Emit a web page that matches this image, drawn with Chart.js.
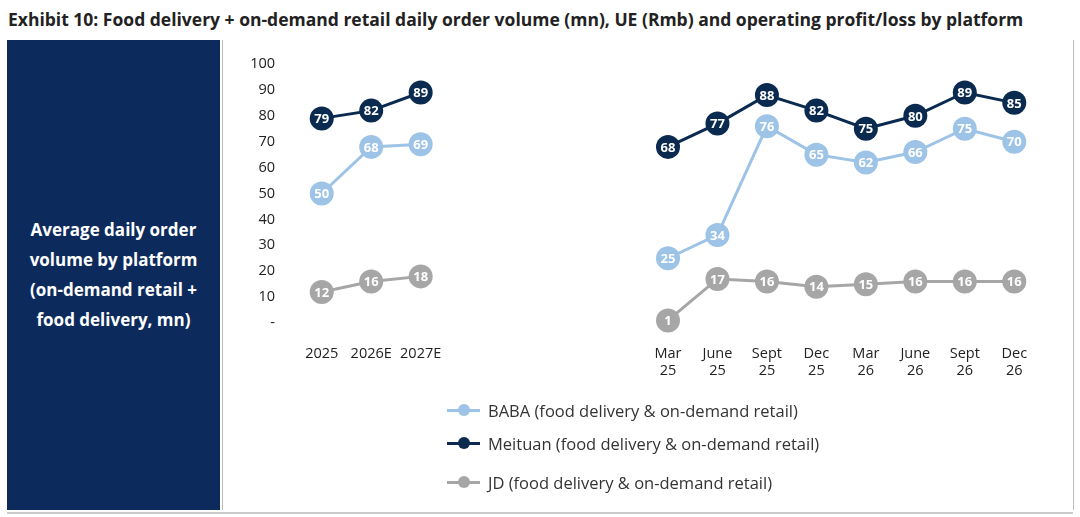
<!DOCTYPE html>
<html><head><meta charset="utf-8">
<script src="https://cdn.jsdelivr.net/npm/chart.js@4"></script>
<style>
body{margin:0;width:1080px;height:517px;background:#fff;font-family:"Open Sans",sans-serif;position:relative;overflow:hidden}
#title{position:absolute;left:8px;top:7px;font-size:17.5px;font-weight:bold;color:#222;white-space:nowrap}
#side{position:absolute;left:7px;top:40px;width:213px;height:470px;background:#0d2a5c;color:#fff;font-weight:bold;font-size:17px;line-height:30px;text-align:center;display:flex;align-items:center;justify-content:center}
#box{position:absolute;left:222px;top:40px;width:850px;height:470px;border-left:1px solid #bbb;border-right:1px solid #bbb}
#bot{position:absolute;left:7px;top:512px;width:1066px;height:2px;background:#ccc}
#wrap{position:absolute;left:222px;top:40px;width:850px;height:360px}
.lg{position:absolute;left:447px;font-size:16.5px;color:#333;display:flex;align-items:center}
.lg i{display:inline-block;width:33px;height:3px;position:relative;margin-right:8px}
.lg i b{position:absolute;left:11px;top:-5px;width:12px;height:12px;border-radius:50%}
</style></head><body>
<div id="title">Exhibit 10: Food delivery + on-demand retail daily order volume (mn), UE (Rmb) and operating profit/loss by platform</div>
<div id="side"><div>Average daily order<br>volume by platform<br>(on-demand retail +<br>food delivery, mn)</div></div>
<div id="box"></div>
<div id="bot"></div>
<div id="wrap"><canvas id="c"></canvas></div>
<div class="lg" style="top:399px"><i style="background:#9dc3e6"><b style="background:#9dc3e6"></b></i>BABA (food delivery &amp; on-demand retail)</div>
<div class="lg" style="top:432px"><i style="background:#0b2a4f"><b style="background:#0b2a4f"></b></i>Meituan (food delivery &amp; on-demand retail)</div>
<div class="lg" style="top:471px"><i style="background:#a6a6a6"><b style="background:#a6a6a6"></b></i>JD (food delivery &amp; on-demand retail)</div>
<script>
const categories = ["2025","2026E","2027E","","","","",["Mar","25"],["June","25"],["Sept","25"],["Dec","25"],["Mar","26"],["June","26"],["Sept","26"],["Dec","26"]];
const baba = [50,68,69,null,null,null,null,25,34,76,65,62,66,75,70];
const meituan = [79,82,89,null,null,null,null,68,77,88,82,75,80,89,85];
const jd = [12,16,18,null,null,null,null,1,17,16,14,15,16,16,16];
const yTicks = [0,10,20,30,40,50,60,70,80,90,100];

const ds = (label, data, color) => ({label, data, borderColor: color, backgroundColor: color,
  borderWidth: 3, pointRadius: 12, pointBorderWidth: 0, spanGaps: false, tension: 0, clip: false});

const labelPlugin = {
  id: "pointText",
  afterDatasetsDraw(chart) {
    const ctx = chart.ctx;
    ctx.save();
    ctx.font = "bold 13px 'Open Sans', sans-serif";
    ctx.fillStyle = "#fff";
    ctx.textAlign = "center";
    ctx.textBaseline = "middle";
    chart.data.datasets.forEach((d, i) => {
      chart.getDatasetMeta(i).data.forEach((p, j) => {
        if (d.data[j] == null) return;
        ctx.fillText(d.data[j], p.x, p.y + 1);
      });
    });
    ctx.restore();
  }
};

new Chart(document.getElementById("c"), {
  type: "line",
  data: { labels: categories, datasets: [ds("BABA", baba, "#9dc3e6"), ds("Meituan", meituan, "#0b2a4f"), ds("JD", jd, "#a6a6a6")] },
  options: {
    responsive: true, maintainAspectRatio: false, animation: false,
    layout: { padding: { top: 24, right: 33, left: 0, bottom: 0 } },
    plugins: { legend: { display: false }, tooltip: { enabled: false } },
    scales: {
      x: {
        offset: true,
        grid: { display: false }, border: { display: false },
        ticks: { color: "#222", font: { size: 14.5, family: "Open Sans" }, padding: 14, maxRotation: 0, autoSkip: false },
        afterFit: (s) => { s.height = 77; }
      },
      y: {
        min: 0, max: 100,
        grid: { display: false }, border: { display: false },
        afterBuildTicks: (s) => { s.ticks = yTicks.map(v => ({ value: v })); },
        ticks: { color: "#222", font: { size: 14.5, family: "Open Sans" }, padding: 14,
          callback: (v) => v === 0 ? "-" : v },
        afterFit: (s) => { s.width = 75; }
      }
    }
  },
  plugins: [labelPlugin]
});
</script>
</body></html>
